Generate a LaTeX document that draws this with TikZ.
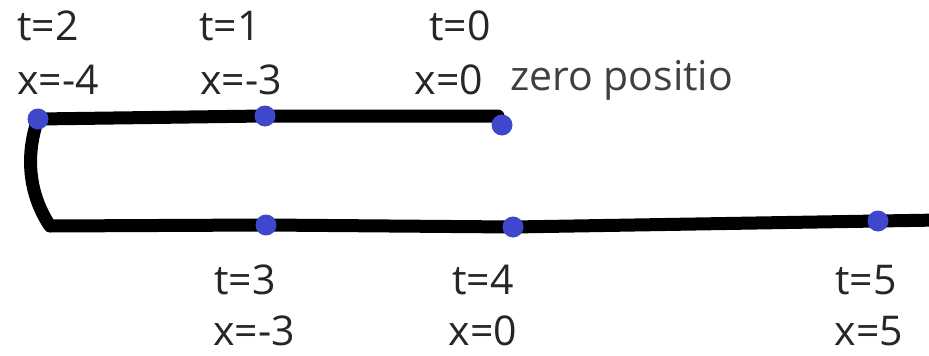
\documentclass[tikz,border=0pt]{standalone}
\usepackage{fontspec}
\setmainfont{Open Sans}
\usetikzlibrary{backgrounds}
\definecolor{dotblue}{HTML}{3F48CC}
\definecolor{txt}{HTML}{262626}
\definecolor{txtgray}{HTML}{404040}
\tikzset{
  dot/.style={circle,fill=dotblue,inner sep=0pt,minimum size=21pt},
  track/.style={line width=13pt,black,line cap=round,line join=round},
  lab/.style={text=txt,font=\fontsize{41}{45}\selectfont,inner sep=0pt,anchor=center},
}
\begin{document}
\begin{tikzpicture}[x=1pt,y=-1pt]
\useasboundingbox (0,0) rectangle (929,356);
\node[dot] (p2) at (38,119) {};
\node[dot] (p1) at (265,116) {};
\node[dot] (p0) at (502,125) {};
\node[dot] (p3) at (266,225) {};
\node[dot] (p4) at (513,227) {};
\node[dot] (p5) at (878,221) {};
\coordinate (e0) at (498,116);
\coordinate (corner) at (50,226);
\coordinate (eend) at (940,220);
\begin{pgfonlayer}{background}
\draw[track] (e0) -- (p1.center) -- (p2.center) .. controls (27,150) and (26,190) .. (corner) -- (p3.center) -- (p4.center) -- (p5.center) -- (eend);
\end{pgfonlayer}
\node[lab] (t2) at (48,26) {t=2};
\node[lab] (x2) at (58,80) {x=-4};
\node[lab] (t1) at (230,26) {t=1};
\node[lab] (x1) at (241,80) {x=-3};
\node[lab] (t0) at (460,26) {t=0};
\node[lab] (x0) at (449,80) {x=0};
\node[lab,anchor=west,text=txtgray] (zp) at (510,80) {zero positio};
\node[lab] (t3) at (245,280) {t=3};
\node[lab] (x3) at (254,331) {x=-3};
\node[lab] (t4) at (483,280) {t=4};
\node[lab] (x4) at (483,331) {x=0};
\node[lab] (t5) at (866,280) {t=5};
\node[lab] (x5) at (869,331) {x=5};
\end{tikzpicture}
\end{document}
